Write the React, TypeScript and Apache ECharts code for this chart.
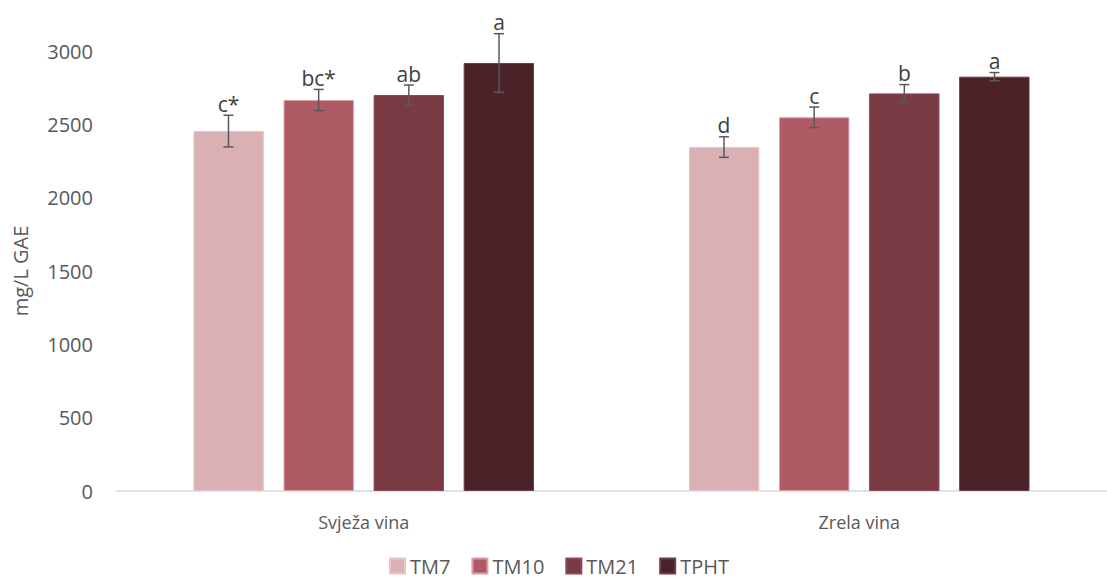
import React, { useEffect, useRef } from "react";
import * as echarts from "echarts";

const categories = ["Svježa vina", "Zrela vina"];
const seriesNames = ["TM7", "TM10", "TM21", "TPHT"];
const tm7 = [2454, 2345];
const tm10 = [2666, 2548];
const tm21 = [2700, 2711];
const tpht = [2918, 2825];
const tm7Err = [108, 70];
const tm10Err = [72, 70];
const tm21Err = [68, 60];
const tphtErr = [200, 28];
const tm7Letters = ["c*", "d"];
const tm10Letters = ["bc*", "c"];
const tm21Letters = ["ab", "b"];
const tphtLetters = ["a", "a"];
const yTicks = [0, 500, 1000, 1500, 2000, 2500, 3000];

const colors = ["#DAB0B5", "#AF5B66", "#7A3A43", "#4A2228"];
const borders = ["#E6C5C9", "#D9A0A8", "#8A4A53", "#6A3F45"];
const FONT = "'Open Sans', sans-serif";

export default function App() {
  const ref = useRef<HTMLDivElement>(null);
  useEffect(() => {
    const chart = echarts.init(ref.current!, null, { renderer: "svg" });
    const values = [tm7, tm10, tm21, tpht];
    const errs = [tm7Err, tm10Err, tm21Err, tphtErr];
    const letters = [tm7Letters, tm10Letters, tm21Letters, tphtLetters];
    const barFrac = 0.142;
    const gapFrac = 0.04;
    const barSeries = seriesNames.map((name, i) => ({
      name,
      type: "bar",
      data: values[i],
      barWidth: "14.2%",
      barGap: "28%",
      itemStyle: { color: colors[i], borderColor: borders[i], borderWidth: 1 },
    }));
    const errSeries = seriesNames.map((name, i) => ({
      name: name + "_err",
      type: "custom",
      data: values[i].map((v, k) => [k, v, errs[i][k]]),
      z: 10,
      renderItem: (params: any, api: any) => {
        const k = api.value(0);
        const v = api.value(1);
        const e = api.value(2);
        const band = api.size([1, 0])[0];
        const step = band * (barFrac + gapFrac);
        const center = api.coord([k, v]);
        const x = center[0] + (i - 1.5) * step;
        const top = api.coord([k, v + e])[1];
        const bot = api.coord([k, v - e])[1];
        const cap = 5;
        const st = { stroke: "#595959", lineWidth: 1.5 };
        return {
          type: "group",
          children: [
            { type: "line", shape: { x1: x, y1: top, x2: x, y2: bot }, style: st },
            { type: "line", shape: { x1: x - cap, y1: top, x2: x + cap, y2: top }, style: st },
            { type: "line", shape: { x1: x - cap, y1: bot, x2: x + cap, y2: bot }, style: st },
            {
              type: "text",
              x: x,
              y: top - 1,
              style: {
                text: letters[i][k],
                fill: "#404040",
                font: `21px ${FONT}`,
                align: "center",
                verticalAlign: "bottom",
              },
            },
          ],
        };
      },
    }));
    chart.setOption({
      animation: false,
      textStyle: { fontFamily: FONT },
      grid: { left: 116, top: 51, width: 998, height: 440 },
      legend: {
        data: seriesNames,
        top: 556,
        left: 389,
        padding: 0,
        itemWidth: 15,
        itemHeight: 15,
        itemGap: 21,
        icon: "rect",
        textStyle: { color: "#595959", fontSize: 20, fontFamily: FONT },
      },
      xAxis: {
        type: "category",
        data: categories,
        axisLine: { lineStyle: { color: "#D9D9D9", width: 1.5 } },
        axisTick: { show: false },
        axisLabel: { color: "#595959", fontSize: 18, margin: 22, fontFamily: FONT },
      },
      yAxis: {
        type: "value",
        min: 0,
        max: 3000,
        interval: 500,
        name: "mg/L GAE",
        nameLocation: "middle",
        nameGap: 86,
        nameTextStyle: { color: "#595959", fontSize: 20, fontFamily: FONT },
        axisLine: { show: false },
        axisTick: { show: false },
        splitLine: { show: false },
        axisLabel: {
          color: "#595959",
          fontSize: 20,
          margin: 23,
          fontFamily: FONT,
          formatter: (v: number) => (yTicks.includes(v) ? String(v) : ""),
        },
      },
      series: [...barSeries, ...errSeries],
    });
    return () => chart.dispose();
  }, []);
  return (
    <div
      ref={ref}
      style={{ position: "absolute", left: 0, top: 0, width: 1107, height: 582 }}
    />
  );
}
